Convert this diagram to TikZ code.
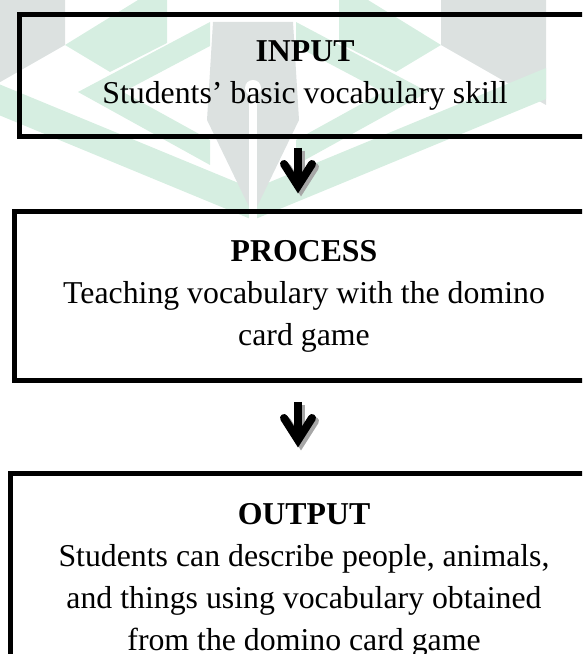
\documentclass[tikz,border=0pt]{standalone}
\usepackage{fontspec}
\setmainfont{Liberation Serif}
\usetikzlibrary{positioning}
\newlength{\px}\setlength{\px}{0.3774pt}
\definecolor{markgreen}{RGB}{214,238,225}
\definecolor{markgray}{RGB}{220,225,224}
\tikzset{
  stage/.style={draw=black, line width=5\px, align=center, inner sep=0pt,
    font=\fontsize{12}{15.85}\selectfont},
  downarrow/.pic={
    % soft shadow first, then the arrow itself
    \begin{scope}[shift={(3,3)}, draw=black!35]
      \draw[line width=8\px] (0,0) -- (0,36);
      \draw[line width=8\px, line cap=round, miter limit=10] (-14,16) -- (0,38) -- (14,16);
    \end{scope}
    \draw[line width=8\px] (0,0) -- (0,36);
    \draw[line width=8\px, line cap=round, miter limit=10] (-14,16) -- (0,38) -- (14,16);
  },
  markhalf/.pic={
    \fill[markgray] (-40,0) -- (65,0) -- (65,45) -- (-40,105) -- cycle;
    \fill[markgreen] (65,45) -- (138,0) -- (167,0) -- (167,43) -- (110,72) -- cycle;
    \fill[markgreen] (78,92) -- (210,22) -- (210,46) -- (123,92) -- (210,140) -- (210,165) -- cycle;
  }
}

\begin{document}
\begin{tikzpicture}[x=\px, y=-\px]
  \useasboundingbox (0,0) rectangle (582,654);
  \clip (0,0) rectangle (582,654);

  % faint logo behind the chart
  \pic at (0,0) {markhalf};
  \pic[xscale=-1] at (506,0) {markhalf};
  \fill[markgreen] (-40,68) -- (253,189) -- (546,68) -- (546,99) -- (253,220) -- (-40,99) -- cycle;
  \fill[markgray] (213,22) -- (293,22) -- (299,120) -- (253,215) -- (207,120) -- cycle;
  \fill[white] (253,88) circle (8);
  \fill[white] (249,88) rectangle (257,220);

  \node[stage, minimum width=571\px, minimum height=122\px] (input) at (305,75.5)
    {\textbf{INPUT}\\Students’ basic vocabulary skill};
  \node[stage, minimum width=579\px, minimum height=169.5\px] (process) at (304,296)
    {\textbf{PROCESS}\\Teaching vocabulary with the domino\\card game};
  \node[stage, minimum width=587\px, minimum height=213\px] (output) at (304,580)
    {\textbf{OUTPUT}\\Students can describe people, animals,\\and things using vocabulary obtained\\from the domino card game};

  \coordinate (step1) at (298,148);
  \coordinate (step2) at (298,402);
  \pic at (step1) {downarrow};
  \pic at (step2) {downarrow};
\end{tikzpicture}
\end{document}
